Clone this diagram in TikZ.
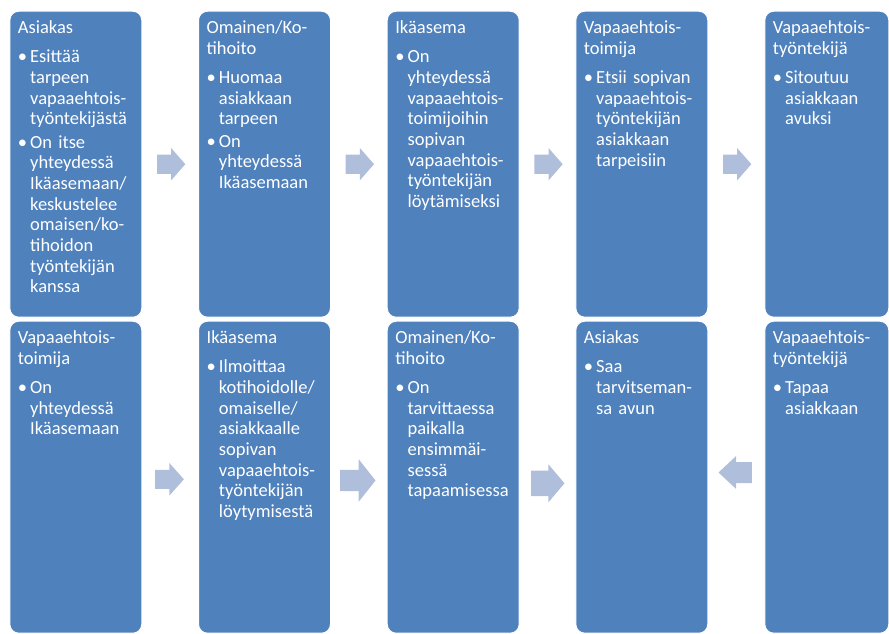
\documentclass[tikz,border=0pt]{standalone}
\usepackage{fontspec}
\setmainfont{Carlito}
\usetikzlibrary{shapes.arrows}

\definecolor{stageblue}{RGB}{79,129,189}
\definecolor{flowblue}{RGB}{175,190,218}

\newcommand{\stagetitle}[1]{#1\par\vspace{2.2pt}}
\newcommand{\stagepoint}[1]{\par\vspace{6.3pt}\noindent\makebox[12.3pt][l]{\textbullet}\parbox[t]{118pt}{#1}\par}

\tikzset{
    stage/.style={draw=white, line width=1pt, fill=stageblue, rounded corners=9pt, anchor=north west, minimum width=132pt, minimum height=306pt, inner sep=0pt},
    stagetext/.style={anchor=base west, text=white, text width=132pt, align=left, inner sep=0pt, font=\fontsize{18.5}{20.7}\selectfont},
    flow/.style n args={4}{single arrow, fill=flowblue, anchor=tail, inner xsep=0pt, minimum width=0pt, minimum height=#1, inner ysep=#2, single arrow head extend=#3, single arrow tip angle=#4},
}

\begin{document}
\begin{tikzpicture}[x=1pt,y=-1pt]
    \useasboundingbox (0,0) rectangle (889,633);
    % upper row
    \node[stage] at (9.3,10.7) (b1) {};
    \node[stage] at (198,10.7) (b2) {};
    \node[stage] at (386.7,10.7) (b3) {};
    \node[stage] at (575.3,10.7) (b4) {};
    \node[stage,minimum width=124pt] at (764.3,10.7) (b5) {};
    % lower row
    \node[stage,minimum height=312pt] at (9.3,320.7) (b6) {};
    \node[stage,minimum height=312pt] at (198,320.7) (b7) {};
    \node[stage,minimum height=312pt] at (386.7,320.7) (b8) {};
    \node[stage,minimum height=312pt] at (575.3,320.7) (b9) {};
    \node[stage,minimum height=312pt,minimum width=124pt] at (764.3,320.7) (b10) {};

    \node[stagetext] at ([xshift=8.4pt,yshift=-22.8pt]b1.north west) (t1) {\stagetitle{Asiakas}\stagepoint{Esittää\\tarpeen\\vapaaehtois-\\työntekijästä}\stagepoint{On itse\\yhteydessä\\Ikäasemaan/\\keskustelee\\omaisen/ko-\\tihoidon\\työntekijän\\kanssa}};
    \node[stagetext] at ([xshift=8.4pt,yshift=-22.8pt]b2.north west) (t2) {\stagetitle{Omainen/Ko-\\tihoito}\stagepoint{Huomaa\\asiakkaan\\tarpeen}\stagepoint{On\\yhteydessä\\Ikäasemaan}};
    \node[stagetext] at ([xshift=8.4pt,yshift=-22.8pt]b3.north west) (t3) {\stagetitle{Ikäasema}\stagepoint{On\\yhteydessä\\vapaaehtois-\\toimijoihin\\sopivan\\vapaaehtois-\\työntekijän\\löytämiseksi}};
    \node[stagetext] at ([xshift=8.4pt,yshift=-22.8pt]b4.north west) (t4) {\stagetitle{Vapaaehtois-\\toimija}\stagepoint{Etsii sopivan\\vapaaehtois-\\työntekijän\\asiakkaan\\tarpeisiin}};
    \node[stagetext] at ([xshift=8.4pt,yshift=-22.8pt]b5.north west) (t5) {\stagetitle{Vapaaehtois-\\työntekijä}\stagepoint{Sitoutuu\\asiakkaan\\avuksi}};
    \node[stagetext] at ([xshift=8.4pt,yshift=-22.8pt]b6.north west) (t6) {\stagetitle{Vapaaehtois-\\toimija}\stagepoint{On\\yhteydessä\\Ikäasemaan}};
    \node[stagetext] at ([xshift=8.4pt,yshift=-22.8pt]b7.north west) (t7) {\stagetitle{Ikäasema}\stagepoint{Ilmoittaa\\kotihoidolle/\\omaiselle/\\asiakkaalle\\sopivan\\vapaaehtois-\\työntekijän\\löytymisestä}};
    \node[stagetext] at ([xshift=8.4pt,yshift=-22.8pt]b8.north west) (t8) {\stagetitle{Omainen/Ko-\\tihoito}\stagepoint{On\\tarvittaessa\\paikalla\\ensimmäi-\\sessä\\tapaamisessa}};
    \node[stagetext] at ([xshift=8.4pt,yshift=-22.8pt]b9.north west) (t9) {\stagetitle{Asiakas}\stagepoint{Saa\\tarvitseman-\\sa avun}};
    \node[stagetext] at ([xshift=8.4pt,yshift=-22.8pt]b10.north west) (t10) {\stagetitle{Vapaaehtois-\\työntekijä}\stagepoint{Tapaa\\asiakkaan}};

    % block arrows
    \node[flow={28.3pt}{9.5pt}{6.5pt}{97.6}] at ([xshift=14.5pt]b1.east) (a1) {};
    \node[flow={28.3pt}{9.5pt}{6.5pt}{97.6}] at ([xshift=14.5pt]b2.east) (a2) {};
    \node[flow={28.3pt}{9.5pt}{6.5pt}{97.6}] at ([xshift=14.5pt]b3.east) (a3) {};
    \node[flow={28.3pt}{9.5pt}{6.5pt}{97.6}] at ([xshift=14.5pt]b4.east) (a4) {};
    \node[flow={28.7pt}{9.35pt}{6.8pt}{96.6}] at ([xshift=12.7pt,yshift=-2.1pt]b6.east) (a5) {};
    \node[flow={35.3pt}{10.5pt}{10.5pt}{103.3}] at ([xshift=9pt,yshift=-3.3pt]b7.east) (a6) {};
    \node[flow={33.3pt}{12.5pt}{6.35pt}{99.3}] at ([xshift=11.3pt,yshift=-6.1pt]b8.east) (a7) {};
    \node[flow={33.3pt}{10.3pt}{5.85pt}{86.1},shape border rotate=180] at ([xshift=-12.3pt,yshift=4.7pt]b10.west) (a8) {};
\end{tikzpicture}
\end{document}
